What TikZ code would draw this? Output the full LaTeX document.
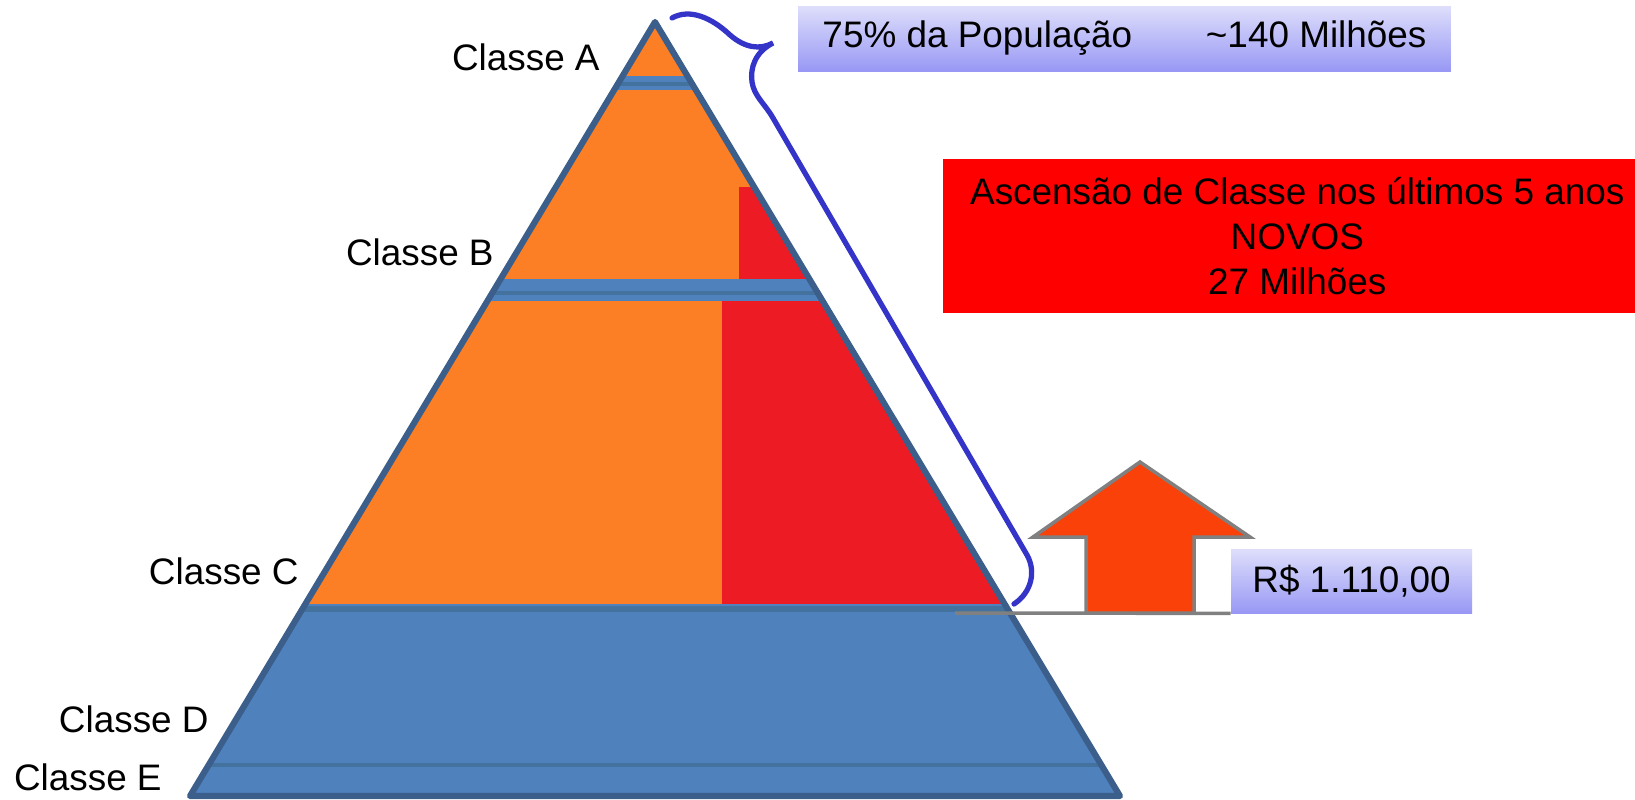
\documentclass[tikz,border=0pt]{standalone}
\usepackage{fontspec}
\setmainfont{Liberation Sans}
\usepackage{tikz}
\usetikzlibrary{positioning,calc}
\definecolor{pyrblue}{HTML}{4F81BD}
\definecolor{pyredge}{HTML}{3B5E8A}
\definecolor{pyrband}{HTML}{44729F}
\definecolor{pyrorange}{HTML}{FD7F25}
\definecolor{pyrred}{HTML}{ED1C24}
\definecolor{bracebl}{HTML}{3434C8}
\definecolor{boxtop}{HTML}{DEDEFB}
\definecolor{boxbot}{HTML}{9898F5}
\definecolor{upred}{HTML}{F94109}

\begin{document}
\begin{tikzpicture}[
        x=0.02cm, y=-0.02cm,
        every node/.style={font=\fontsize{21}{25.5}\selectfont, inner sep=0pt},
        classlabel/.style={anchor=east},
        infobox/.style={top color=boxtop, bottom color=boxbot}
    ]
        \useasboundingbox (0,0) rectangle (1635,799);

        \coordinate (apex) at (655,22);
        \coordinate (bl) at (190,796);
        \coordinate (br) at (1120,796);

        \fill[pyrblue] (apex) -- (bl) -- (br) -- cycle;
        \begin{scope}
            \clip (apex) -- (bl) -- (br) -- cycle;
            \fill[pyrorange] (0,0) rectangle (1635,76);
            \fill[pyrorange] (0,90) rectangle (1635,279);
            \fill[pyrred] (739,187) rectangle (1635,279);
            \fill[pyrorange] (0,301) rectangle (1635,604);
            \fill[pyrred] (722,301) rectangle (1635,604);
            \draw[pyrband, line width=2pt] (0,84) -- (1635,84);
            \draw[pyrband, line width=2.5pt] (0,293) -- (1635,293);
            \draw[pyrband, line width=3pt] (0,609) -- (1635,609);
            \draw[pyrband, line width=2.5pt] (0,765) -- (1635,765);
        \end{scope}
        \draw[pyredge, line width=3.5pt, line join=round] (apex) -- (bl) -- (br) -- cycle;

        \node[classlabel] (clsA) at (600,57) {Classe A};
        \node[classlabel] (clsB) at (494,252) {Classe B};
        \node[classlabel] (clsC) at (299,571) {Classe C};
        \node[classlabel] (clsD) at (209,719) {Classe D};
        \node[classlabel] (clsE) at (162,777) {Classe E};

        \node[infobox, minimum width=13.06cm, minimum height=1.3cm] (popbox) at (1124.5,38.5)
            {75\% da População\hspace{2em}\textasciitilde140 Milhões};
        \node[fill=red, minimum width=14.16cm, minimum height=3.08cm, align=center, anchor=west] (newbox) at (943,236)
            {Ascensão de Classe nos últimos 5 anos\\NOVOS\\27 Milhões};
        \node[infobox, minimum width=4.82cm, minimum height=1.28cm] (wagebox) at (1351.5,581) {R\$ 1.110,00};

        \coordinate (lineL) at (955,613);
        \draw[gray, line width=2pt] (lineL) -- (wagebox.south west);
        \filldraw[fill=upred, draw=gray, line width=2pt]
            (1140,462) -- (1250,537) -- (1194,537) -- (1194,613)
            -- (1086,613) -- (1086,537) -- (1033,537) -- cycle;

        \draw[bracebl, line width=3pt, line cap=round]
            (672,18) .. controls (690,8) and (712,18) .. (730,35)
            .. controls (745,48) and (760,50) .. (773,43)
            .. controls (755,52) and (750,68) .. (752,82)
            .. controls (754,96) and (765,104) .. (773,118)
            -- (1027,555) .. controls (1036,571) and (1032,592) .. (1014,604);
    \end{tikzpicture}
\end{document}
